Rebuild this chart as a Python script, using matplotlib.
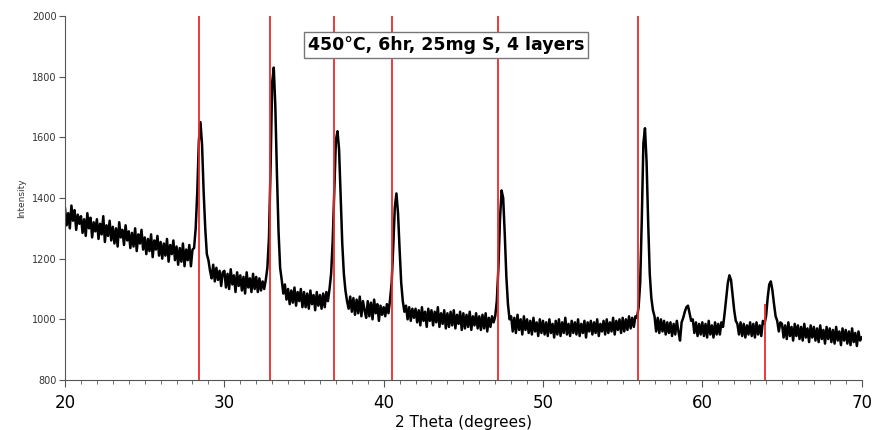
import numpy as np
import matplotlib
matplotlib.use('Agg')
import matplotlib.pyplot as plt
from matplotlib.ticker import MultipleLocator

# 2 theta grid, 0.1 deg steps from 20 to 70
two_theta = np.round(np.arange(20.0, 70.05, 0.1), 1)

# intensity, one row per degree (x.0 .. x.9)
intensity = [
    1365, 1310, 1350, 1300, 1375, 1325, 1360, 1295, 1345, 1315,  # 20
    1340, 1285, 1330, 1275, 1350, 1300, 1335, 1270, 1320, 1290,  # 21
    1330, 1265, 1315, 1280, 1340, 1255, 1310, 1275, 1325, 1260,  # 22
    1305, 1250, 1300, 1240, 1320, 1270, 1295, 1245, 1310, 1260,  # 23
    1290, 1235, 1285, 1240, 1300, 1225, 1280, 1250, 1295, 1230,  # 24
    1270, 1215, 1265, 1225, 1280, 1205, 1260, 1230, 1275, 1210,  # 25
    1255, 1200, 1250, 1210, 1265, 1190, 1245, 1215, 1260, 1195,  # 26
    1240, 1180, 1235, 1190, 1250, 1175, 1230, 1195, 1245, 1175,  # 27
    1230, 1235, 1300, 1420, 1590, 1650, 1575, 1420, 1300, 1215,  # 28
    1195, 1160, 1135, 1180, 1125, 1170, 1130, 1160, 1110, 1155,  # 29
    1160, 1105, 1150, 1100, 1165, 1115, 1145, 1090, 1155, 1110,  # 30
    1145, 1095, 1140, 1085, 1155, 1105, 1135, 1090, 1150, 1100,  # 31
    1140, 1090, 1135, 1095, 1125, 1100, 1130, 1170, 1270, 1500,  # 32
    1780, 1830, 1700, 1480, 1290, 1170, 1130, 1085, 1115, 1065,  # 33
    1100, 1050, 1095, 1055, 1105, 1045, 1090, 1060, 1100, 1040,  # 34
    1090, 1040, 1085, 1035, 1095, 1050, 1080, 1030, 1090, 1045,  # 35
    1080, 1035, 1085, 1040, 1090, 1060, 1100, 1150, 1260, 1430,  # 36
    1590, 1620, 1560, 1400, 1250, 1150, 1095, 1060, 1035, 1075,  # 37
    1025, 1070, 1015, 1065, 1020, 1075, 1010, 1060, 1030, 1005,  # 38
    1060, 1010, 1055, 1000, 1065, 1020, 1050, 995, 1045, 1015,  # 39
    1040, 1010, 1050, 1020, 1065, 1120, 1240, 1370, 1415, 1350,  # 40
    1230, 1120, 1060, 1025, 1045, 1000, 1040, 995, 1035, 1005,  # 41
    1035, 990, 1030, 980, 1040, 995, 1025, 975, 1035, 995,  # 42
    1030, 980, 1025, 990, 1040, 975, 1020, 985, 1030, 970,  # 43
    1020, 975, 1025, 980, 1030, 970, 1015, 985, 1025, 965,  # 44
    1020, 970, 1015, 975, 1025, 965, 1010, 980, 1020, 970,  # 45
    1010, 965, 1015, 970, 1020, 960, 1005, 975, 1010, 990,  # 46
    1010, 1060, 1170, 1330, 1425, 1400, 1280, 1140, 1050, 1000,  # 47
    1010, 960, 1005, 955, 1015, 965, 1000, 950, 1010, 965,  # 48
    1000, 955, 995, 950, 1005, 960, 990, 945, 1000, 955,  # 49
    995, 950, 990, 945, 1000, 955, 985, 940, 995, 950,  # 50
    1000, 945, 990, 955, 1005, 950, 985, 945, 995, 955,  # 51
    990, 950, 1000, 945, 985, 955, 995, 940, 990, 960,  # 52
    995, 950, 990, 955, 1000, 945, 985, 960, 995, 950,  # 53
    1000, 955, 990, 960, 1005, 950, 995, 965, 1000, 955,  # 54
    1005, 960, 1000, 965, 1010, 970, 1005, 975, 1010, 1005,  # 55
    1040, 1120, 1330, 1580, 1630, 1520, 1320, 1150, 1070, 1030,  # 56
    1010, 960, 1005, 955, 1000, 960, 995, 950, 990, 955,  # 57
    990, 945, 985, 950, 995, 960, 930, 990, 1005, 1025,  # 58
    1040, 1045, 1020, 995, 1000, 955, 990, 945, 985, 950,  # 59
    990, 945, 985, 940, 995, 950, 980, 940, 990, 950,  # 60
    985, 950, 990, 975, 1020, 1070, 1120, 1145, 1130, 1080,  # 61
    1030, 995, 985, 950, 990, 945, 985, 940, 980, 950,  # 62
    990, 945, 985, 940, 990, 950, 980, 945, 995, 985,  # 63
    1010, 1070, 1115, 1125, 1095, 1050, 1010, 995, 960, 990,  # 64
    985, 940, 980, 935, 990, 945, 975, 930, 985, 945,  # 65
    980, 935, 975, 930, 985, 940, 970, 925, 980, 940,  # 66
    975, 930, 970, 925, 980, 935, 965, 920, 975, 935,  # 67
    970, 925, 965, 920, 975, 930, 960, 915, 970, 930,  # 68
    965, 920, 960, 915, 970, 925, 955, 912, 960, 930,  # 69
    940,  # 70
]

# reference peak markers (position, top of the line)
ref_pos = [28.4, 32.86, 36.88, 40.52, 47.16, 55.95, 63.91]
ref_top = [2000, 2000, 2000, 2000, 2000, 2000, 1050]

title = '450°C, 6hr, 25mg S, 4 layers'

fig = plt.figure(figsize=(8.73, 4.30), dpi=100)
ax = fig.add_axes([0.0745, 0.1163, 0.9125, 0.8465])

ax.plot(two_theta, intensity, color='black', lw=1.8)
ax.vlines(ref_pos, 800, ref_top, colors='#ee2a2a', lw=1.3, zorder=3)

ax.set_xlim(20, 70)
ax.set_ylim(800, 2000)

ax.spines['top'].set_visible(False)
ax.spines['right'].set_visible(False)
for s in ['left', 'bottom']:
    ax.spines[s].set_color('#555555')
    ax.spines[s].set_linewidth(0.8)

ax.xaxis.set_major_locator(MultipleLocator(10))
ax.xaxis.set_minor_locator(MultipleLocator(1))
ax.yaxis.set_major_locator(MultipleLocator(200))
ax.tick_params(axis='x', which='major', labelsize=12, length=5, color='#555555', pad=5)
ax.tick_params(axis='x', which='minor', length=3, color='#555555')
ax.tick_params(axis='y', which='major', labelsize=7, length=4, color='#555555',
               labelcolor='#333333', pad=2)

ax.set_xlabel('2 Theta (degrees)', fontsize=11, labelpad=2)
ax.set_ylabel('Intensity', fontsize=6.5, labelpad=4, color='#333333')

ax.text(43.9, 1905, title, fontsize=12.5, fontweight='bold', ha='center', va='center',
        bbox=dict(boxstyle='square,pad=0.22', fc='white', ec='#777777', lw=1))

fig.savefig('out.png', dpi=100)
